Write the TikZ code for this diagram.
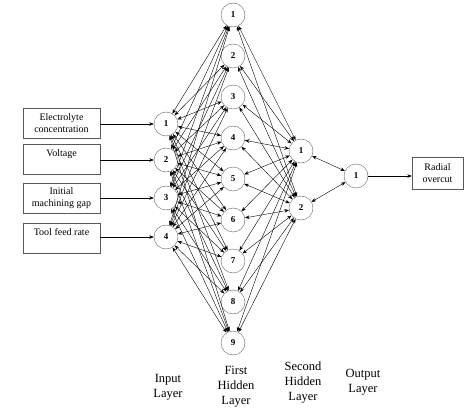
\documentclass[tikz,border=0pt]{standalone}
\usepackage{fontspec}
\setmainfont{Liberation Serif}
\usetikzlibrary{arrows.meta,positioning}

\begin{document}
\begin{tikzpicture}[x=1pt,y=-1pt,
  neuron/.style={circle,draw=gray!80!black,thin,minimum size=24pt,inner sep=0pt,fill=white,
    font=\bfseries\fontsize{9}{10}\selectfont},
  inbox/.style={draw=gray!70!black,thin,minimum width=77pt,minimum height=30pt,inner sep=1pt,
    align=center,font=\fontsize{10}{12}\selectfont},
  link/.style={{Stealth[length=4.5pt,width=3.5pt]}-{Stealth[length=4.5pt,width=3.5pt]},line width=0.4pt},
  feed/.style={-{Stealth[length=4.5pt,width=3.5pt]},line width=0.4pt},
  layername/.style={align=center,font=\fontsize{12.5}{15}\selectfont}]
\useasboundingbox (0,0) rectangle (474,409);
% neurons
\foreach \i/\y in {1/124,2/160,3/198,4/237}{\node[neuron] (in\i) at (166,\y) {\i};}
\foreach \i in {1,...,9}{\node[neuron] (ha\i) at (233,{15+41*(\i-1)}) {\i};}
\node[neuron] (hb1) at (301,151) {1};
\node[neuron] (hb2) at (301,208) {2};
\node[neuron] (out) at (356,176) {1};
% input and output boxes
\node[inbox] (b1) at (61.5,123.5) {Electrolyte\\concentration};
\node[inbox] (b2) at (61.5,159.5) {Voltage\\~};
\node[inbox] (b3) at (61.5,198) {Initial\\machining gap};
\node[inbox] (b4) at (61.5,238) {Tool feed rate\\~};
\node[inbox,minimum width=51pt,minimum height=32pt] (res) at (437.5,173) {Radial\\overcut};
% connections
\foreach \i in {1,...,4}{\draw[feed] (b\i.east |- in\i) -- (in\i);}
\foreach \i in {1,...,4}{\foreach \j in {1,...,9}{\draw[link] (in\i) -- (ha\j);}}
\foreach \j in {1,...,9}{\foreach \k in {1,2}{\draw[link] (ha\j) -- (hb\k);}}
\foreach \k in {1,2}{\draw[link] (hb\k) -- (out);}
\draw[feed] (out) -- (res.west |- out);
% layer names
\node[layername] (lin) at (168,387) {Input\\Layer};
\node[layername] (lh1) at (236,387) {First\\Hidden\\Layer};
\node[layername] (lh2) at (303,383) {Second\\Hidden\\Layer};
\node[layername] (lout) at (363,382) {Output\\Layer};
\end{tikzpicture}
\end{document}
